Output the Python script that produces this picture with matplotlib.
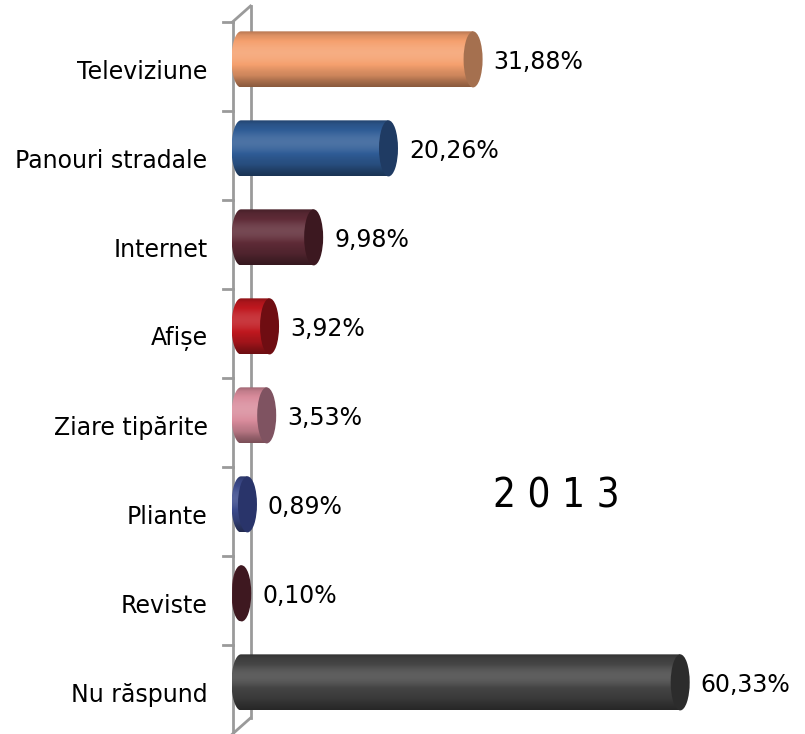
import numpy as np
import matplotlib
matplotlib.use("Agg")
import matplotlib.pyplot as plt
from matplotlib.patches import Ellipse, PathPatch
from matplotlib.path import Path
from matplotlib.colors import to_rgb

# data (top to bottom)
categories = ["Televiziune", "Panouri stradale", "Internet", "Afișe",
              "Ziare tipărite", "Pliante", "Reviste", "Nu răspund"]
values = [31.88, 20.26, 9.98, 3.92, 3.53, 0.89, 0.10, 60.33]
value_labels = ["31,88%", "20,26%", "9,98%", "3,92%", "3,53%", "0,89%", "0,10%", "60,33%"]
body_colors = ["#F5A06E", "#2F5C96", "#5F2B37", "#C0181F", "#D98C9C", "#3C4B8C", "#55232E", "#454545"]
cap_colors = ["#A5704F", "#1F3B63", "#3C1820", "#6F0D12", "#7F5361", "#29346A", "#3E1820", "#2C2C2C"]
year_text = "2 0 1 3"

W, H = 805, 734
fig = plt.figure(figsize=(W / 100, H / 100), dpi=100)

# one axes over the whole figure, scaled in pixels -> percent / rows
zero_px, ppu = 241, 7.28     # px per percent
row_px = 89.0
ax = fig.add_axes([0, 0, 1, 1])
ax.set_xlim(-zero_px / ppu, (W - zero_px) / ppu)
ax.set_ylim(7.5, -0.5 - 22 / row_px)
ax.axis("off")

bar_h = 0.63
cap_w = 19 / ppu
shift = -0.08   # bars sit a little higher because of the 3D depth


def shade(c, f):
    r = np.array(to_rgb(c))
    if f >= 1:
        return r + (1 - r) * (f - 1)
    return r * f


for i, (v, bc, cc) in enumerate(zip(values, body_colors, cap_colors)):
    yc = i + shift
    top, bot = yc - bar_h / 2, yc + bar_h / 2
    # body path: left half ellipse + rectangle
    t = np.linspace(np.pi / 2, 3 * np.pi / 2, 40)
    lx = cap_w / 2 * np.cos(t)
    ly = yc - bar_h / 2 * np.sin(t)
    verts = [(v, top), (0, top)] + list(zip(lx, ly)) + [(0, bot), (v, bot), (v, top)]
    clip = PathPatch(Path(verts), facecolor="none", edgecolor="none")
    ax.add_patch(clip)
    # vertical gradient
    g = np.linspace(0, 1, 64)
    fac = 0.78 + 0.36 * np.exp(-((g - 0.4) / 0.3) ** 2)
    fac = np.where(g > 0.8, fac * (1 - (g - 0.8) * 1.4), fac)
    fac = np.where(g < 0.08, fac * (0.85 + g * 1.8), fac)
    img = np.array([shade(bc, f) for f in fac]).clip(0, 1)[:, None, :]
    im = ax.imshow(img, extent=[-cap_w / 2, v, bot, top], aspect="auto",
                   origin="upper", interpolation="bilinear", zorder=2)
    im.set_clip_path(clip)
    # right cap
    ax.add_patch(Ellipse((v, yc), cap_w, bar_h, facecolor=cc, edgecolor="none", zorder=3))
    ax.text(v + cap_w / 2 + 11 / ppu, yc + 3 / row_px, value_labels[i], fontsize=17,
            ha="left", va="center", color="black")

# 3D wall
dx, dy = 18 / ppu, -16 / row_px
wall = "#9A9A9A"
ytop, ybot = -0.5, 7.5
fx = (232.5 - zero_px) / ppu
ax.plot([fx, fx], [ytop, ybot], color=wall, lw=2, zorder=1)
ax.plot([fx + dx, fx + dx], [ytop + dy, ybot + dy], color=wall, lw=2, zorder=1)
ax.plot([fx, fx + dx], [ytop, ytop + dy], color=wall, lw=2, zorder=1)
ax.plot([fx, fx + dx], [ybot, ybot + dy], color=wall, lw=2, zorder=1)
for b in np.arange(-0.5, 7.5, 1.0):
    ax.plot([fx - 10 / ppu, fx], [b, b], color=wall, lw=2, zorder=1)

# category labels
for i, c in enumerate(categories):
    ax.text(fx - 25 / ppu, i + 0.06, c, fontsize=17, ha="right", va="center",
            color="black")

ax.text((556 - zero_px) / ppu, (497 - 67) / row_px, year_text, fontsize=29,
        fontstretch="condensed", ha="center", va="center", color="black")

fig.savefig("out.png", dpi=100)
